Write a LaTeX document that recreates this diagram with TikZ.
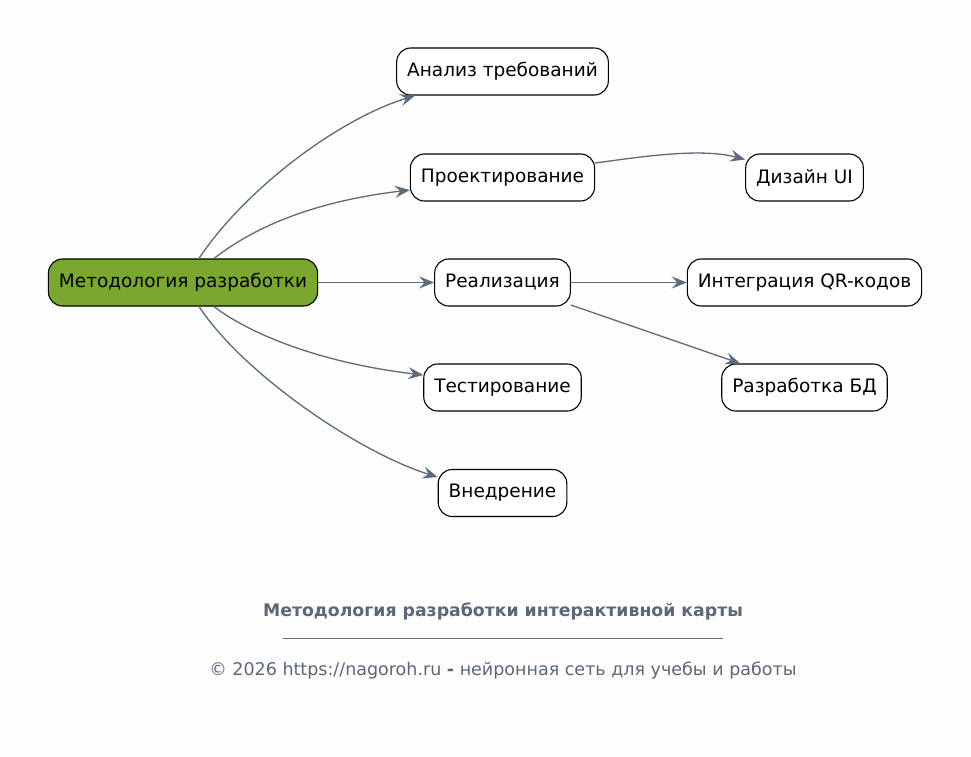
\documentclass[tikz,border=0pt]{standalone}
\usepackage{fontspec}
\setmainfont{DejaVu Sans}
\usetikzlibrary{arrows.meta,calc}
\definecolor{edgec}{HTML}{5B6B7B}
\definecolor{rootc}{HTML}{7AA72E}
\definecolor{footc}{HTML}{5B6878}
\definecolor{bgc}{HTML}{FDFDFD}
\begin{document}
\begin{tikzpicture}[x=1pt,y=-1pt,
  box/.style={draw=black, line width=1.1pt, rounded corners=14pt, fill=white,
    minimum height=47pt, inner xsep=10.5pt, inner ysep=0pt,
    font=\fontsize{18.5}{22}\selectfont, text=black},
  rootbox/.style={box, fill=rootc},
  edge/.style={draw=edgec, line width=1.3pt,
    -{Stealth[length=15pt,width=12pt,inset=5.5pt]}},
  foot/.style={text=footc, font=\fontsize{17.5}{21}\selectfont}]
\useasboundingbox[fill=bgc] (0,0) rectangle (971,756);

\node[rootbox] (root) at (183,282.5) {Методология разработки};
\node[box] (anal) at (502.5,71.5) {Анализ требований};
\node[box] (proj) at (502.5,177.5) {Проектирование};
\node[box] (real) at (502.5,282.5) {Реализация};
\node[box] (test) at (502.5,387.5) {Тестирование};
\node[box] (vned) at (502.5,493) {Внедрение};
\node[box] (diz) at (804.5,177.5) {Дизайн UI};
\node[box] (qr) at (804.5,282.5) {Интеграция QR-кодов};
\node[box] (bd) at (804.5,387.5) {Разработка БД};

\draw[edge] ($(root.north)+(16,0)$) .. controls +(45,-68) and +(-78,24) .. ($(anal.south west)+(19,0)$);
\draw[edge] ($(root.north)+(31,0)$) .. controls +(31,-24) and +(-110,13) .. ($(proj.west)+(0,12.5)$);
\draw[edge] (root.east) -- (real.west);
\draw[edge] ($(root.south)+(31,0)$) .. controls +(31,24) and +(-110,-13) .. ($(test.west)+(0,-12.5)$);
\draw[edge] ($(root.south)+(16,0)$) .. controls +(45,68) and +(-78,-24) .. ($(vned.west)+(0,-16)$);
\draw[edge] ($(proj.east)+(0,-14.5)$) .. controls +(45,-6) and +(-45,-12) .. ($(diz.west)+(0,-18)$);
\draw[edge] (real.east) -- (qr.west);
\draw[edge] ($(real.east)+(0,22.5)$) -- ($(bd.north west)+(19,0)$);

\node[foot, font=\fontsize{17.3}{21}\selectfont\bfseries] (title) at (503,611) {Методология разработки интерактивной карты};
\coordinate (rl) at (283,638);
\coordinate (rr) at (723,638);
\draw[footc, line width=0.6pt] (rl) -- (rr);
\node[foot] (copy) at (503,671) {© 2026 https://nagoroh.ru \textbf{-} нейронная сеть для учебы и работы};
\end{tikzpicture}
\end{document}
